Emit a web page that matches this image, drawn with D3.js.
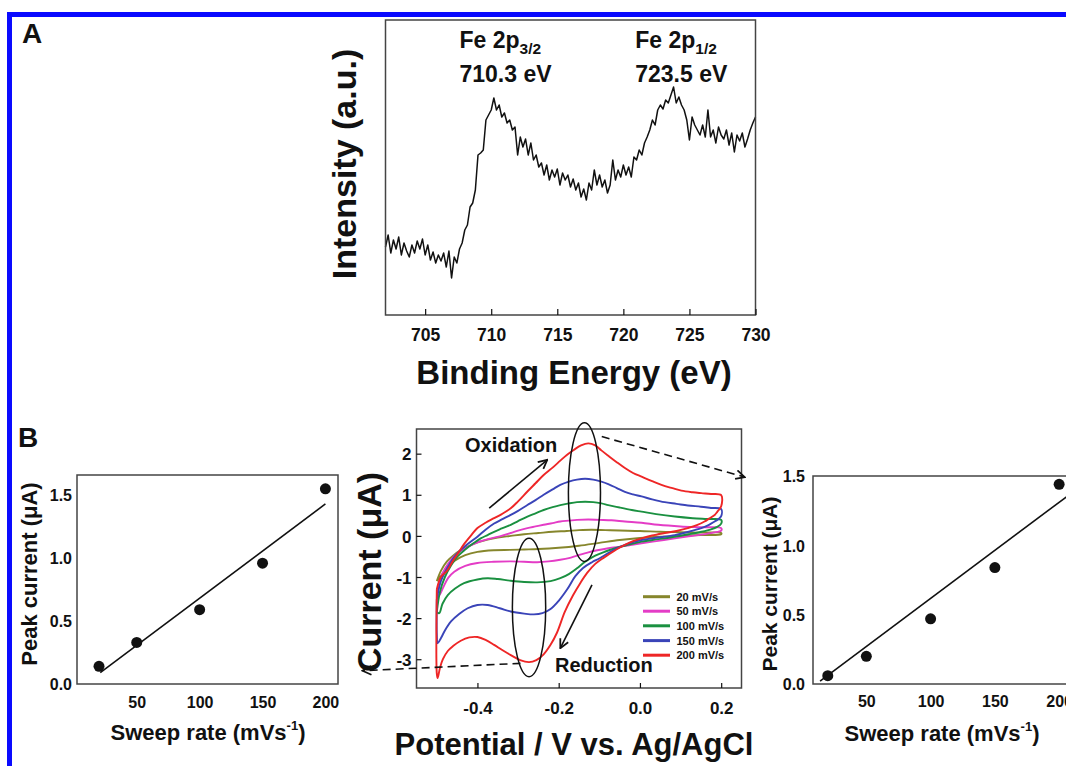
<!DOCTYPE html>
<html><head><meta charset="utf-8">
<script src="https://cdn.jsdelivr.net/npm/d3@7"></script>
<style>
body{margin:0;background:#fff}
svg{display:block}
text{font-family:"Liberation Sans",Arial,Helvetica,sans-serif;font-weight:bold;fill:#111}
</style>
</head><body>
<svg id="c" width="1066" height="766"></svg>
<script>
// ---------------- DATA ----------------
// Panel A: XPS Fe 2p spectrum (intensity in a.u., 0.2 eV steps from 702 eV)
const xpsStartEnergy = 702;
const xpsStepEnergy = 0.2;
const xpsIntensity = [
  68, 80, 62, 75, 66, 78, 60, 72, 64, 58,
  70, 62, 74, 66, 76, 60, 70, 55, 63, 52,
  60, 54, 62, 48, 64, 37, 58, 52, 66, 72,
  85, 90, 108, 112, 125, 160, 162, 165, 195, 200,
  205, 217, 205, 210, 198, 202, 192, 195, 185, 188,
  160, 178, 168, 176, 160, 172, 155, 160, 148, 152,
  140, 150, 135, 145, 138, 146, 130, 142, 135, 140,
  128, 136, 125, 132, 118, 126, 115, 132, 125, 145,
  130, 140, 128, 135, 122, 130, 155, 135, 145, 138,
  150, 140, 148, 138, 158, 155, 165, 160, 172, 178,
  185, 195, 190, 205, 210, 206, 215, 212, 220, 228,
  212, 218, 210, 205, 195, 175, 198, 190, 185, 180,
  190, 178, 205, 178, 185, 172, 188, 180, 176, 185,
  170, 182, 163, 180, 174, 182, 168, 176, 185, 192,
  198
];
const xpsTicks = [705, 710, 715, 720, 725, 730];
const xpsPeakNames = ["3/2", "1/2"];
const xpsPeakEnergies = ["710.3 eV", "723.5 eV"];

// Panel B: cyclic voltammograms [potential V, current uA]
const cvRates = ["20 mV/s", "50 mV/s", "100 mV/s", "150 mV/s", "200 mV/s"];
const cv20 = [[-0.500,-1.10],[-0.490,-0.85],[-0.475,-0.62],[-0.460,-0.48],[-0.440,-0.34],[-0.420,-0.24],[-0.400,-0.16],[-0.375,-0.09],[-0.350,-0.04],[-0.318,0.00],[-0.285,0.04],[-0.250,0.07],[-0.215,0.10],[-0.180,0.12],[-0.150,0.14],[-0.120,0.15],[-0.085,0.14],[-0.050,0.13],[0.000,0.12],[0.050,0.10],[0.100,0.09],[0.150,0.08],[0.200,0.07],
  [0.200,0.04],[0.150,0.02],[0.100,0.00],[0.050,-0.02],[0.000,-0.05],[-0.050,-0.10],[-0.100,-0.17],[-0.150,-0.24],[-0.200,-0.29],[-0.250,-0.32],[-0.285,-0.33],[-0.320,-0.34],[-0.360,-0.35],[-0.400,-0.39],[-0.430,-0.47],[-0.455,-0.60],[-0.475,-0.78],[-0.490,-0.98],[-0.500,-1.10]];
const cv50 = [[-0.500,-1.40],[-0.492,-1.05],[-0.480,-0.80],[-0.465,-0.58],[-0.449,-0.42],[-0.430,-0.30],[-0.410,-0.20],[-0.392,-0.13],[-0.370,-0.07],[-0.345,-0.01],[-0.318,0.07],[-0.300,0.13],[-0.277,0.19],[-0.257,0.23],[-0.237,0.27],[-0.215,0.31],[-0.196,0.35],[-0.175,0.37],[-0.155,0.39],[-0.127,0.40],[-0.100,0.39],[-0.070,0.38],[-0.037,0.35],[0.004,0.32],[0.045,0.27],[0.100,0.23],[0.150,0.21],[0.200,0.19],
  [0.200,0.13],[0.180,0.08],[0.150,0.03],[0.120,-0.01],[0.086,-0.06],[0.045,-0.12],[0.004,-0.18],[-0.040,-0.25],[-0.078,-0.30],[-0.105,-0.35],[-0.127,-0.40],[-0.155,-0.48],[-0.175,-0.54],[-0.196,-0.58],[-0.225,-0.62],[-0.253,-0.64],[-0.285,-0.63],[-0.318,-0.62],[-0.360,-0.63],[-0.400,-0.66],[-0.430,-0.73],[-0.457,-0.87],[-0.472,-1.02],[-0.485,-1.27],[-0.495,-1.45],[-0.500,-1.40]];
const cv100 = [[-0.500,-1.85],[-0.492,-1.35],[-0.480,-1.00],[-0.465,-0.72],[-0.449,-0.50],[-0.430,-0.33],[-0.410,-0.18],[-0.392,-0.06],[-0.375,0.02],[-0.359,0.10],[-0.340,0.18],[-0.318,0.27],[-0.300,0.36],[-0.277,0.47],[-0.257,0.55],[-0.237,0.63],[-0.215,0.70],[-0.196,0.75],[-0.175,0.79],[-0.155,0.82],[-0.135,0.83],[-0.115,0.82],[-0.095,0.79],[-0.078,0.75],[-0.050,0.69],[-0.020,0.63],[0.004,0.59],[0.040,0.53],[0.086,0.47],[0.130,0.43],[0.165,0.41],[0.200,0.39],
  [0.200,0.30],[0.190,0.22],[0.175,0.16],[0.151,0.10],[0.120,0.04],[0.086,-0.02],[0.045,-0.08],[0.004,-0.14],[-0.030,-0.22],[-0.061,-0.30],[-0.085,-0.38],[-0.110,-0.48],[-0.135,-0.63],[-0.155,-0.79],[-0.175,-0.93],[-0.196,-1.03],[-0.220,-1.10],[-0.253,-1.13],[-0.285,-1.12],[-0.318,-1.09],[-0.350,-1.05],[-0.375,-1.03],[-0.400,-1.06],[-0.433,-1.15],[-0.455,-1.28],[-0.473,-1.44],[-0.486,-1.65],[-0.494,-1.88],[-0.500,-1.85]];
const cv150 = [[-0.500,-1.55],[-0.490,-1.10],[-0.475,-0.80],[-0.460,-0.55],[-0.445,-0.38],[-0.424,-0.20],[-0.400,-0.02],[-0.380,0.15],[-0.359,0.30],[-0.340,0.40],[-0.318,0.51],[-0.300,0.61],[-0.277,0.75],[-0.257,0.87],[-0.237,1.00],[-0.215,1.13],[-0.196,1.24],[-0.175,1.32],[-0.155,1.37],[-0.135,1.39],[-0.115,1.37],[-0.095,1.32],[-0.078,1.26],[-0.058,1.17],[-0.037,1.07],[-0.017,1.01],[0.004,0.96],[0.030,0.89],[0.061,0.82],[0.090,0.78],[0.118,0.74],[0.150,0.71],[0.175,0.68],[0.200,0.65],
  [0.200,0.48],[0.192,0.40],[0.184,0.35],[0.170,0.27],[0.151,0.19],[0.120,0.10],[0.086,0.02],[0.045,-0.04],[0.004,-0.10],[-0.017,-0.15],[-0.037,-0.22],[-0.058,-0.31],[-0.078,-0.42],[-0.100,-0.55],[-0.118,-0.64],[-0.140,-0.78],[-0.159,-0.98],[-0.179,-1.30],[-0.200,-1.58],[-0.220,-1.78],[-0.240,-1.88],[-0.261,-1.91],[-0.285,-1.89],[-0.318,-1.84],[-0.345,-1.76],[-0.375,-1.68],[-0.400,-1.68],[-0.424,-1.76],[-0.445,-1.90],[-0.465,-2.08],[-0.480,-2.30],[-0.490,-2.49],[-0.498,-2.61],[-0.500,-2.40],[-0.500,-1.55]];
const cv200 = [[-0.500,-1.30],[-0.490,-1.00],[-0.475,-0.85],[-0.461,-0.62],[-0.445,-0.38],[-0.433,-0.20],[-0.415,0.02],[-0.400,0.19],[-0.380,0.32],[-0.359,0.43],[-0.340,0.53],[-0.318,0.67],[-0.300,0.84],[-0.277,1.08],[-0.257,1.28],[-0.237,1.48],[-0.215,1.66],[-0.196,1.83],[-0.180,1.97],[-0.163,2.09],[-0.145,2.20],[-0.127,2.25],[-0.110,2.20],[-0.095,2.08],[-0.078,1.95],[-0.058,1.80],[-0.037,1.65],[-0.017,1.53],[0.004,1.44],[0.030,1.33],[0.053,1.24],[0.080,1.16],[0.102,1.10],[0.130,1.06],[0.151,1.04],[0.175,1.02],[0.200,0.99],
  [0.200,0.72],[0.190,0.58],[0.184,0.51],[0.170,0.42],[0.159,0.35],[0.140,0.26],[0.118,0.19],[0.090,0.12],[0.061,0.07],[0.030,0.01],[0.004,-0.06],[-0.017,-0.13],[-0.037,-0.22],[-0.058,-0.33],[-0.078,-0.46],[-0.095,-0.57],[-0.110,-0.68],[-0.130,-0.90],[-0.147,-1.15],[-0.165,-1.45],[-0.185,-1.85],[-0.204,-2.35],[-0.220,-2.65],[-0.237,-2.88],[-0.255,-3.02],[-0.273,-3.07],[-0.295,-3.02],[-0.318,-2.90],[-0.340,-2.77],[-0.359,-2.65],[-0.380,-2.53],[-0.400,-2.46],[-0.420,-2.47],[-0.441,-2.55],[-0.460,-2.68],[-0.473,-2.80],[-0.485,-3.00],[-0.492,-3.20],[-0.498,-3.46],[-0.500,-3.35],[-0.500,-1.30]];
const cvXTicks = [-0.4, -0.2, 0.0, 0.2];
const cvYTicks = [-3, -2, -1, 0, 1, 2];

// Panel B side plots: peak current vs sweep rate
const sweepRates = [20, 50, 100, 150, 200];
const peakReduction = [0.14, 0.33, 0.59, 0.96, 1.55];   // left plot
const fitReductionX = [21, 200];
const fitReductionY = [0.09, 1.43];
const peakOxidation = [0.06, 0.20, 0.47, 0.84, 1.44];   // right plot
const fitOxidationX = [14, 210];
const fitOxidationY = [0.02, 1.38];
const sweepTicks = [50, 100, 150, 200];
const peakTicks = [0, 0.5, 1.0, 1.5];

// ---------------- DRAWING ----------------
const svg = d3.select("#c");
svg.append("rect").attr("width",1066).attr("height",766).attr("fill","#fff");

// blue frame
svg.append("path").attr("d","M9.5,766 V14.5 H1066").attr("fill","none")
  .attr("stroke","#0a0aff").attr("stroke-width",5);

const defs = svg.append("defs");
defs.append("marker").attr("id","arr").attr("viewBox","0 0 10 10")
  .attr("refX",9).attr("refY",5).attr("markerWidth",11).attr("markerHeight",11)
  .attr("markerUnits","userSpaceOnUse").attr("orient","auto")
  .append("path").attr("d","M1,1 L9,5 L1,9").attr("fill","none")
  .attr("stroke","#111").attr("stroke-width",1.6);

const ink = "#111", boxInk = "#444";

function styleAxis(g, fs){
  g.select(".domain").remove();
  g.selectAll(".tick line").attr("stroke", ink).attr("stroke-width",1.2);
  g.selectAll(".tick text").attr("font-size", fs).attr("fill", ink)
    .style("font-family","'Liberation Sans',Arial,sans-serif").style("font-weight","bold");
}
function bottomAxis(x, ticks, fmt, y0, tick, fs, baseOff){
  const g = svg.append("g").attr("transform",`translate(0,${y0})`)
    .call(d3.axisBottom(x).tickValues(ticks).tickFormat(fmt).tickSizeInner(-tick).tickSizeOuter(0));
  styleAxis(g, fs);
  g.selectAll(".tick text").attr("y", baseOff).attr("dy", null);
  return g;
}
function leftAxis(y, ticks, fmt, x0, tick, fs, pad){
  const g = svg.append("g").attr("transform",`translate(${x0},0)`)
    .call(d3.axisLeft(y).tickValues(ticks).tickFormat(fmt).tickSizeInner(-tick).tickSizeOuter(0).tickPadding(pad));
  styleAxis(g, fs);
  g.selectAll(".tick text").attr("x", -pad).attr("dy","0.36em");
  return g;
}
function box(x, y){
  const [x0,x1] = x.range(), [y0,y1] = y.range();
  svg.append("rect").attr("x",Math.min(x0,x1)).attr("y",Math.min(y0,y1))
    .attr("width",Math.abs(x1-x0)).attr("height",Math.abs(y1-y0))
    .attr("fill","none").attr("stroke",boxInk).attr("stroke-width",1.5);
}
function vText(x, y, fs, parts){
  const t = svg.append("text").attr("transform",`translate(${x},${y}) rotate(-90)`)
    .attr("text-anchor","middle").attr("font-size",fs);
  parts(t);
  return t;
}

// ===== Panel A =====
svg.append("text").attr("x",22).attr("y",43).attr("font-size",28).text("A");
const xA = d3.scaleLinear().domain([702,730]).range([385.5,755.5]);
const yA = d3.scaleLinear().domain([0,295]).range([315,20]);
const xpsData = xpsIntensity.map((v,i)=>({e: xpsStartEnergy + i*xpsStepEnergy, v}));
svg.append("path").datum(xpsData)
  .attr("d", d3.line().x(d=>xA(d.e)).y(d=>yA(d.v)))
  .attr("fill","none").attr("stroke",ink).attr("stroke-width",1.5).attr("stroke-linejoin","round");
box(xA, yA);
bottomAxis(xA, xpsTicks, d=>String(d), 315, 6, 17.5, 26);
svg.append("text").attr("x",574).attr("y",384).attr("text-anchor","middle")
  .attr("font-size",33).text("Binding Energy (eV)");
vText(356, 164, 34, t=>t.text("Intensity (a.u.)"));
// peak annotations
const peakLabelX = [xA(707.6), xA(720.9)];
xpsPeakNames.forEach((s,i)=>{
  const t = svg.append("text").attr("x",peakLabelX[i]).attr("y",48).attr("font-size",23);
  t.append("tspan").text("Fe 2p");
  t.append("tspan").attr("font-size",15.5).attr("dy",6).text(s);
  svg.append("text").attr("x",peakLabelX[i]).attr("y",82).attr("font-size",23).text(xpsPeakEnergies[i]);
});

// ===== Panel B label =====
svg.append("text").attr("x",18).attr("y",447).attr("font-size",28).text("B");

// ----- side plots -----
function sidePlot(x, y, vals, fitX, fitY, opt){
  svg.append("line")
    .attr("x1",x(fitX[0])).attr("y1",y(fitY[0]))
    .attr("x2",x(fitX[1])).attr("y2",y(fitY[1]))
    .attr("stroke",ink).attr("stroke-width",1.6);
  svg.append("g").selectAll("circle").data(sweepRates).join("circle")
    .attr("cx",d=>x(d)).attr("cy",(d,i)=>y(vals[i])).attr("r",5.5).attr("fill",ink);
  box(x, y);
  bottomAxis(x, sweepTicks, d=>String(d), y.range()[0], 0, 16, opt.xOff);
  leftAxis(y, peakTicks, d=>d.toFixed(1), x.range()[0], 0, 16, opt.yPad);
  vText(opt.ylx, opt.yly, opt.ylfs, t=>t.text("Peak current (\u03BCA)"));
  const t = svg.append("text").attr("x",opt.xlx).attr("y",opt.xly).attr("text-anchor","middle").attr("font-size",22);
  t.append("tspan").text("Sweep rate (mVs");
  t.append("tspan").attr("font-size",13).attr("dy",-10).text("-1");
  t.append("tspan").attr("dy",10).text(")");
}
const xL = d3.scaleLinear().domain([2.5,210]).range([77,338]);
const yL = d3.scaleLinear().domain([0,1.66]).range([684,475]);
sidePlot(xL, yL, peakReduction, fitReductionX, fitReductionY,
  {xOff:24, yPad:5, ylx:37, yly:574, ylfs:22, xlx:208, xly:740});

const xR = d3.scaleLinear().domain([8.5,210]).range([813,1072]);
const yR = d3.scaleLinear().domain([0,1.5]).range([684,476]);
sidePlot(xR, yR, peakOxidation, fitOxidationX, fitOxidationY,
  {xOff:23, yPad:8, ylx:777, yly:584, ylfs:21, xlx:942, xly:741});

// ----- CV plot -----
const xC = d3.scaleLinear().domain([-0.55,0.25]).range([416.5,741.5]);
const yC = d3.scaleLinear().domain([-3.7,2.6]).range([688,429]);
const cvColors = ["#86862c","#e43cc6","#1a9040","#3a44b8","#ee2626"];
const cvSets = [cv20, cv50, cv100, cv150, cv200];
const cvLine = d3.line().x(d=>xC(d[0])).y(d=>yC(d[1])).curve(d3.curveCatmullRom.alpha(0.5));
svg.append("g").selectAll("path").data(cvSets).join("path")
  .attr("d", d=>cvLine(d)).attr("fill","none")
  .attr("stroke",(d,i)=>cvColors[i]).attr("stroke-width",1.9).attr("stroke-linejoin","round");
box(xC, yC);
bottomAxis(xC, cvXTicks, d=>d.toFixed(1), 688, 5, 17, 25.5);
leftAxis(yC, cvYTicks, d=>String(d), 416.5, 5, 17, 5);
vText(381, 572, 34, t=>t.text("Current (\u03BCA)"));
svg.append("text").attr("x",574).attr("y",755).attr("text-anchor","middle")
  .attr("font-size",31).text("Potential / V vs. Ag/AgCl");

// legend
const legY = [596.7, 611.2, 625.8, 640.6, 655.2];
cvRates.forEach((r,i)=>{
  svg.append("line").attr("x1",643).attr("x2",670).attr("y1",legY[i]).attr("y2",legY[i])
    .attr("stroke",cvColors[i]).attr("stroke-width",3);
  svg.append("text").attr("x",676.5).attr("y",legY[i]).attr("dy","0.36em")
    .attr("font-size",11).text(r);
});

// ellipses around the peaks
function ell(ce, ci, re, ri){
  svg.append("ellipse").attr("cx",xC(ce)).attr("cy",yC(ci))
    .attr("rx",xC(ce+re)-xC(ce)).attr("ry",yC(ci)-yC(ci+ri))
    .attr("fill","none").attr("stroke",ink).attr("stroke-width",1.5);
}
ell(-0.1366, 1.063, 0.0395, 1.686);
ell(-0.273, -1.74, 0.041, 1.684);

// arrows
function arrow(a, b, dashed){
  svg.append("line").attr("x1",xC(a[0])).attr("y1",yC(a[1])).attr("x2",xC(b[0])).attr("y2",yC(b[1]))
    .attr("stroke",ink).attr("stroke-width",1.6)
    .attr("stroke-dasharray", dashed ? "8,5" : null)
    .attr("marker-end","url(#arr)");
}
arrow([-0.371,0.674],[-0.228,1.849], false);
arrow([-0.118,-1.19],[-0.196,-2.73], false);
arrow([-0.094,2.416],[0.258,1.43], true);
arrow([-0.294,-3.10],[-0.683,-3.28], true);

svg.append("text").attr("x",465).attr("y",452).attr("font-size",20).text("Oxidation");
svg.append("text").attr("x",555).attr("y",672).attr("font-size",20).text("Reduction");
</script>
</body></html>
